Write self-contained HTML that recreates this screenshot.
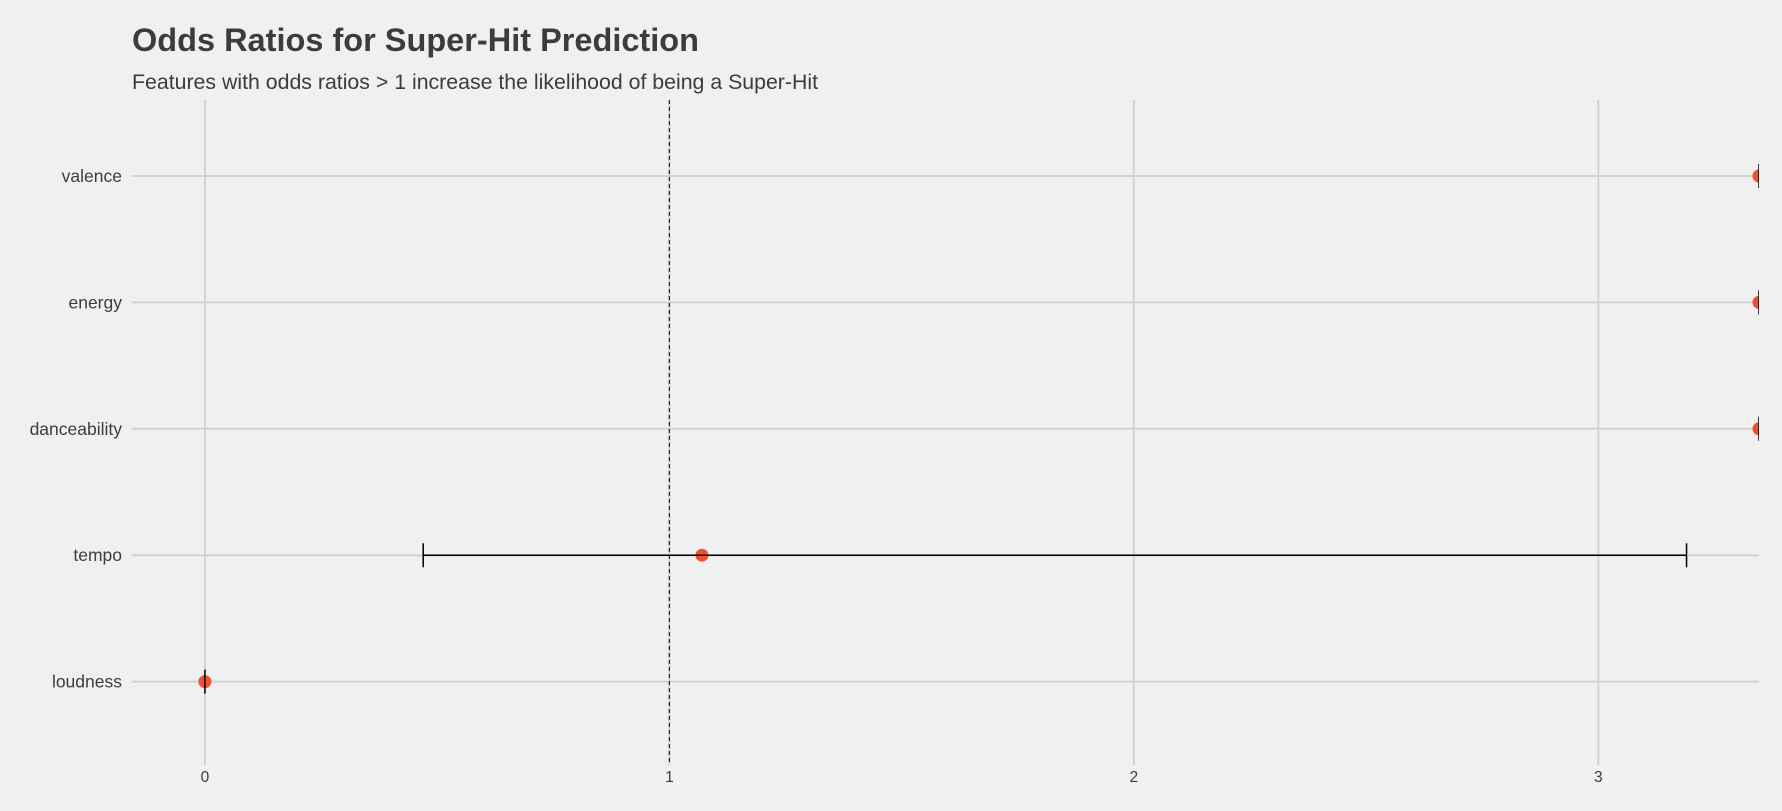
<!DOCTYPE html>
<html><head><meta charset="utf-8"><style>
body{margin:0;background:#f0f0f0;}
svg{display:block;font-family:"Liberation Sans",Arial,sans-serif;}
</style></head><body>
<svg id="chart" width="1782" height="811">
<rect width="1782" height="811" fill="#f0f0f0"/>
<text x="132" y="51" font-size="32.5" font-weight="bold" fill="#3c3c3c">Odds Ratios for Super-Hit Prediction</text>
<text x="132" y="89" font-size="21.3" fill="#3c3c3c">Features with odds ratios &gt; 1 increase the likelihood of being a Super-Hit</text>
<defs><clipPath id="pc"><rect x="132" y="100" width="1627" height="665"/></clipPath></defs>
<g id="grid"></g><g id="marks" clip-path="url(#pc)"></g><g id="labels"></g>
</svg>
<script>
const features = ["valence","energy","danceability","tempo","loudness"];
const oddsRatio = [1e6, 1e6, 1e6, 1.07, 0.0];
const ciLow = [3.346, 3.346, 3.346, 0.47, 0.0];
const ciHigh = [1e7, 1e7, 1e7, 3.19, 0.0];
const xTicks = [0,1,2,3];

const NS="http://www.w3.org/2000/svg";
const L=132,R=1759,T=100,B=765;
const xMin=-0.157,xMax=3.346;
const X=v=>L+(Math.min(v,xMax)-xMin)/(xMax-xMin)*(R-L);
const rowTop=176,rowStep=126.4;
const Y=i=>rowTop+i*rowStep;
function mk(tag,attrs,parent){const e=document.createElementNS(NS,tag);for(const k in attrs)e.setAttribute(k,attrs[k]);document.getElementById(parent).appendChild(e);return e;}

xTicks.forEach(t=>{
  const g=mk('line',{x1:X(t),x2:X(t),y1:T,y2:B,stroke:'#d2d2d2','stroke-width':2},'grid');
  
  
  const lb=mk('text',{x:X(t),y:782,'font-size':15.5,'text-anchor':'middle',fill:'#3c3c3c'},'labels');
  lb.textContent=t;
  
  
});
features.forEach((f,i)=>{
  const g=mk('line',{x1:L,x2:R,y1:Y(i),y2:Y(i),stroke:'#d2d2d2','stroke-width':2},'grid');
  
  
  const lb=mk('text',{x:122,y:Y(i)+6,'font-size':17.5,'text-anchor':'end',fill:'#3c3c3c'},'labels');
  lb.textContent=f;
  
  
});
const ref=mk('line',{x1:X(1),x2:X(1),y1:T,y2:B,stroke:'#222','stroke-width':1.2,'stroke-dasharray':'4,3'},'grid');



features.forEach((f,i)=>{
  const y=Y(i),lo=X(ciLow[i]),hi=X(ciHigh[i]);
  const p=mk('circle',{cx:X(oddsRatio[i]),cy:y,r:6.5,fill:'#f0502f'},'marks');
  
  
  const e=mk('path',{d:`M${lo},${y}H${hi}M${lo},${y-12}V${y+12}M${hi},${y-12}V${y+12}`,stroke:'#000','stroke-width':1.5,fill:'none'},'marks');
  
  
});
</script>
</body></html>
